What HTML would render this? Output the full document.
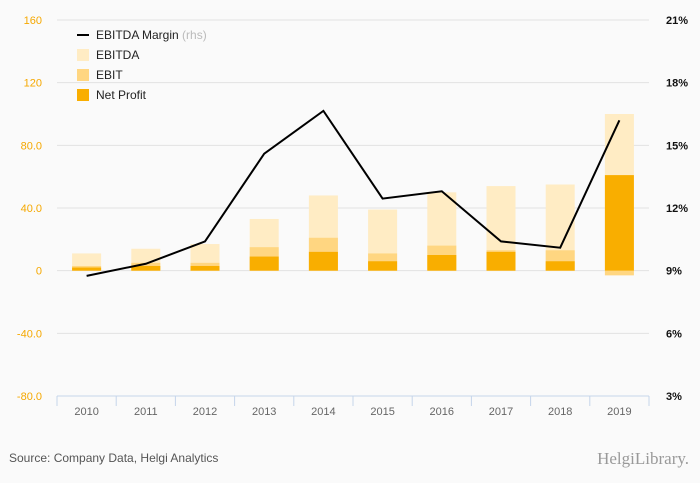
<!DOCTYPE html>
<html><head><meta charset="utf-8"><style>
body{margin:0;background:#fafafa;font-family:"Liberation Sans",sans-serif}
svg{display:block}
</style></head><body>
<svg id="c" width="700" height="483" xmlns="http://www.w3.org/2000/svg"></svg>
<script>
const categories=["2010","2011","2012","2013","2014","2015","2016","2017","2018","2019"];
const ebitda=[11,14,17,33,48,39,50,54,55,100];
const ebit=[3,5,5,15,21,11,16,13,13,-3];
const netProfit=[2,3,3,9,12,6,10,12,6,61];
const margin=[8.75,9.33,10.4,14.6,16.65,12.45,12.8,10.4,10.1,16.2];
const leftTicks=[160,120,80,40,0,-40,-80];
const leftLabels=["160","120","80.0","40.0","0","-40.0","-80.0"];
const rightTicks=[21,18,15,12,9,6,3];
const NS="http://www.w3.org/2000/svg";
const svg=document.getElementById('c');
const x0=57,x1=649,yTop=20,yBot=396;
const yL=v=>yBot-(v+80)/240*(yBot-yTop);
const yR=v=>yBot-(v-3)/18*(yBot-yTop);
const bw=(x1-x0)/categories.length;
const xc=i=>x0+bw*(i+0.5);
function el(t,a,txt){const e=document.createElementNS(NS,t);for(const k in a)e.setAttribute(k,a[k]);if(txt!==undefined)e.textContent=txt;svg.appendChild(e);return e;}
leftTicks.forEach((v,i)=>{
 const g=el('line',{x1:x0,x2:x1,y1:yL(v),y2:yL(v),stroke:'#e2e2e2'});
 
 const t=el('text',{x:42,y:yL(v)+4,'text-anchor':'end','font-size':11,fill:'#f5a800'},leftLabels[i]);
 
});
rightTicks.forEach(v=>{
 const t=el('text',{x:666,y:yR(v)+4,'font-size':11,fill:'#111','font-weight':'bold'},v+'%');
 
});
const ax=el('line',{x1:x0,x2:x1,y1:yBot,y2:yBot,stroke:'#c5d5ea'});

for(let i=0;i<=categories.length;i++){
 const tk=el('line',{x1:x0+bw*i,x2:x0+bw*i,y1:yBot,y2:yBot+10,stroke:'#c5d5ea'});
 
}
categories.forEach((c,i)=>{
 const t=el('text',{x:xc(i),y:415,'text-anchor':'middle','font-size':11,fill:'#666'},c);
 
});
function bar(v,i,col,name){
 const y=Math.min(yL(v),yL(0)),h=Math.abs(yL(v)-yL(0));
 const r=el('rect',{x:xc(i)-14.5,y:y,width:29,height:h,fill:col});
 
}
categories.forEach((c,i)=>{bar(ebitda[i],i,'#ffecc4','ebitda-bar-'+c);bar(ebit[i],i,'#ffd681','ebit-bar-'+c);bar(netProfit[i],i,'#f9ae00','net-profit-bar-'+c);});
const pts=margin.map((m,i)=>xc(i)+','+yR(m)).join(' ');
const pl=el('polyline',{points:pts,fill:'none',stroke:'#000','stroke-width':2});

const leg=[['line','#000','EBITDA Margin'],['rect','#ffecc4','EBITDA'],['rect','#ffd681','EBIT'],['rect','#f9ae00','Net Profit']];
leg.forEach((l,i)=>{
 const y=35+i*20;
 if(l[0]==='line'){const s=el('line',{x1:77,x2:89,y1:y,y2:y,stroke:'#000','stroke-width':2});}
 else{const s=el('rect',{x:77,y:y-6,width:12,height:12,fill:l[1]});}
 const t=el('text',{x:96,y:y+4,'font-size':12,fill:'#222'},l[2]);
 
 if(i===0){const ts=document.createElementNS(NS,'tspan');ts.setAttribute('fill','#bbb');ts.textContent=' (rhs)';t.appendChild(ts);}
});
const src=el('text',{x:9,y:462,'font-size':12,fill:'#555'},'Source: Company Data, Helgi Analytics');

const logo=el('text',{x:689,y:464,'text-anchor':'end','font-size':17,fill:'#999','font-family':'Liberation Serif, serif'},'HelgiLibrary.');

</script>
</body></html>
